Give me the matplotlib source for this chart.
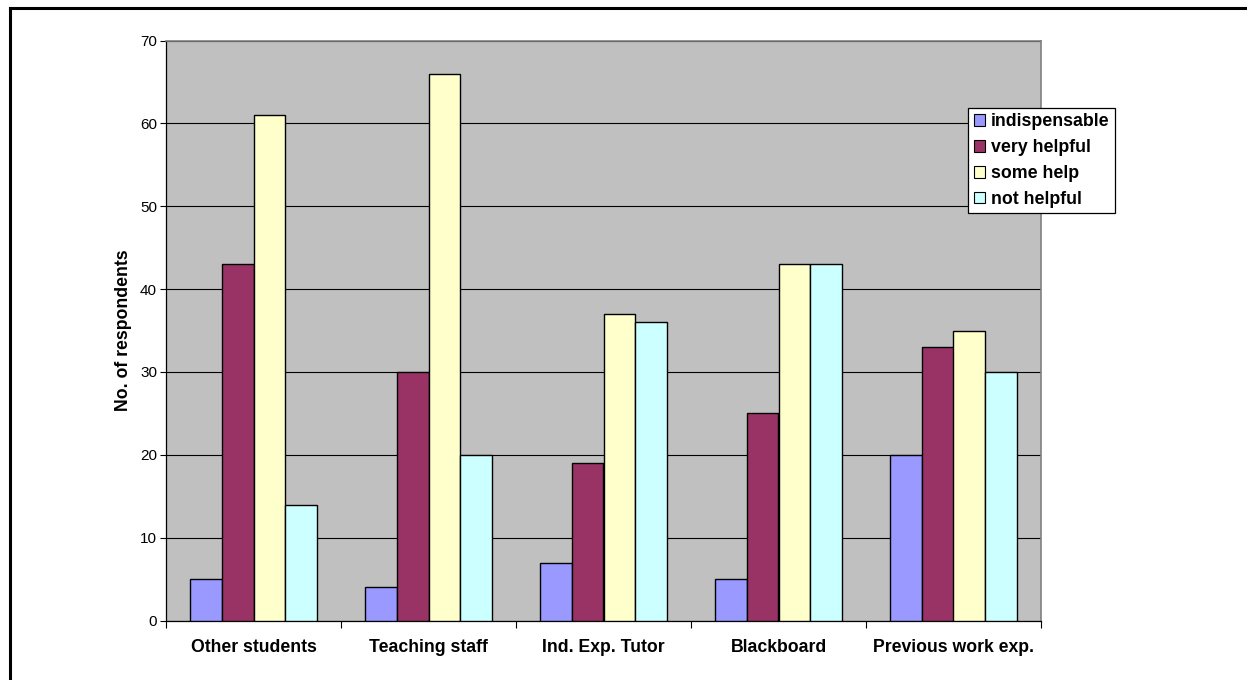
import numpy as np
import matplotlib
matplotlib.use("Agg")
import matplotlib.pyplot as plt
from matplotlib.lines import Line2D

plt.rcParams['font.family'] = ['Liberation Sans', 'DejaVu Sans']

# ── Survey data ───────────────────────────────────────
categories = ["Other students", "Teaching staff", "Ind. Exp. Tutor",
              "Blackboard", "Previous work exp."]
series_names = ["indispensable", "very helpful", "some help", "not helpful"]
indispensable = [5, 4, 7, 5, 20]
very_helpful = [43, 30, 19, 25, 33]
some_help = [61, 66, 37, 43, 35]
not_helpful = [14, 20, 36, 43, 30]
colors = ["#9999FF", "#993366", "#FFFFCC", "#CCFFFF"]

W, H = 1247, 680
fig = plt.figure(figsize=(W / 100, H / 100), dpi=100)
fig.patch.set_facecolor("white")

ax = fig.add_axes([166 / W, (H - 620.5) / H, 875 / W, 580 / H])
ax.set_facecolor("#C0C0C0")

x = np.arange(len(categories))
bw = 0.727 / 4
for i, (vals, name, col) in enumerate(zip(
        [indispensable, very_helpful, some_help, not_helpful],
        series_names, colors)):
    ax.bar(x + (i - 1.5) * bw, vals, width=bw, color=col,
           edgecolor="black", linewidth=1.0, label=name, zorder=3)

ax.set_xlim(-0.5, len(categories) - 0.5)
ax.set_ylim(0, 70)
ax.set_yticks(range(0, 71, 10))
ax.yaxis.grid(True, color="black", linewidth=0.8, zorder=1)
ax.set_axisbelow(True)

# Category labels in the middle, tick marks on group boundaries
ax.set_xticks(x)
ax.set_xticklabels(categories, fontsize=12.7, fontweight="bold")
ax.tick_params(axis="x", which="major", length=0, pad=13.5)
ax.set_xticks(np.arange(-0.5, len(categories), 1), minor=True)
ax.tick_params(axis="x", which="minor", length=5, width=0.8, direction="out")
ax.tick_params(axis="y", length=4.5, width=0.8, direction="out", pad=2,
               labelsize=11)

for s in ["left", "bottom"]:
    ax.spines[s].set_color("black")
    ax.spines[s].set_linewidth(0.9)
for s in ["top", "right"]:
    ax.spines[s].set_color("#808080")
    ax.spines[s].set_linewidth(1.2)

ax.set_ylabel("No. of respondents", fontsize=12.7, fontweight="bold",
              labelpad=6)

leg = ax.legend(loc="upper left", bbox_to_anchor=(0.917, 0.884),
                fancybox=False, framealpha=1, edgecolor="black",
                prop={"size": 12.8, "weight": "bold"},
                handlelength=0.65, handleheight=0.65, handletextpad=0.3,
                labelspacing=0.5, borderpad=0.3, borderaxespad=0)
leg.get_frame().set_linewidth(0.9)
for h in leg.legend_handles:
    h.set_edgecolor("black")
    h.set_linewidth(0.8)

# Outer frame (top and left edges)
fig.add_artist(Line2D([9.5 / W, 1.0], [1 - 8 / H, 1 - 8 / H],
                      transform=fig.transFigure, color="black", linewidth=2.2))
fig.add_artist(Line2D([9.5 / W, 9.5 / W], [0, 1 - 8 / H],
                      transform=fig.transFigure, color="black", linewidth=2.2))

fig.savefig("out.png", dpi=100, facecolor=fig.get_facecolor())
